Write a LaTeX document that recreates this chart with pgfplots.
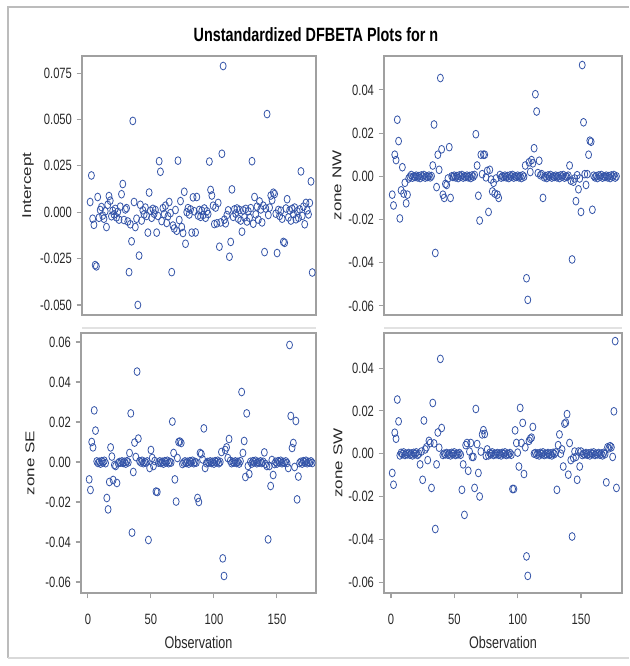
\documentclass[border=0pt]{standalone}
\usepackage{fontspec}
\setmainfont{Liberation Sans}
\newfontfamily\hfont[FakeStretch=0.75]{Liberation Sans}
\newfontfamily\vfont[FakeStretch=1.33]{Liberation Sans}
\usepackage{pgfplots}
\usepackage{pgfplotstable}
\pgfplotsset{compat=1.18}
\definecolor{mblue}{RGB}{52,84,168}
\definecolor{framegray}{RGB}{160,160,160}
\definecolor{txt}{RGB}{40,40,40}

\pgfplotstableread{
obs int nw se sw
1 0.0055 -0.0085 -0.0087 -0.0090
2 0.0198 -0.0135 -0.0140 -0.0145
3 -0.0035 0.0100 0.0100 0.0098
4 -0.0068 0.0075 0.0073 0.0070
5 -0.0285 0.0262 0.0258 0.0253
6 -0.0292 0.0163 0.0157 0.0151
7 0.0082 -0.0195 0.0003 -0.0008
8 -0.0030 -0.0065 -0.0005 0.0004
9 0.0012 0.0042 0.0001 -0.0002
10 0.0028 -0.0080 -0.0008 0.0006
11 -0.0018 -0.0030 0.0004 -0.0006
12 -0.0035 -0.0125 -0.0002 0.0000
13 0.0005 -0.0085 0.0006 -0.0003
14 -0.0080 -0.0010 -0.0006 0.0003
15 0.0040 -0.0002 -0.0180 -0.0005
16 0.0087 0.0006 -0.0237 0.0001
17 0.0062 -0.0006 -0.0100 -0.0008
18 -0.0022 0.0000 0.0073 0.0004
19 0.0008 -0.0003 0.0027 -0.0002
20 -0.0012 0.0003 -0.0090 0.0006
21 0.0018 -0.0005 -0.0015 -0.0006
22 -0.0028 0.0001 -0.0020 0.0000
23 0.0002 -0.0008 -0.0105 -0.0050
24 -0.0040 0.0004 -0.0006 0.0010
25 0.0030 -0.0002 0.0000 -0.0122
26 0.0097 0.0006 -0.0003 0.0155
27 0.0152 -0.0006 0.0003 0.0020
28 -0.0042 0.0000 -0.0005 0.0030
29 0.0015 -0.0003 0.0001 -0.0030
30 0.0022 0.0003 -0.0008 0.0060
31 -0.0050 -0.0005 0.0004 0.0050
32 -0.0323 0.0001 -0.0002 -0.0160
33 -0.0065 0.0050 0.0045 0.0237
34 -0.0157 0.0240 0.0243 0.0048
35 0.0492 -0.0355 -0.0353 -0.0352
36 0.0055 -0.0050 -0.0050 -0.0050
37 -0.0080 0.0100 0.0097 0.0099
38 -0.0035 0.0030 0.0025 0.0028
39 -0.0500 0.0455 0.0452 0.0443
40 -0.0234 0.0125 0.0117 0.0120
41 0.0040 -0.0085 0.0004 -0.0006
42 -0.0045 -0.0100 -0.0002 0.0000
43 0.0010 -0.0035 0.0006 -0.0003
44 -0.0012 -0.0040 -0.0006 0.0003
45 0.0025 -0.0010 0.0000 -0.0005
46 -0.0020 0.0135 -0.0003 0.0001
47 -0.0110 -0.0100 0.0003 -0.0008
48 0.0106 0.0000 -0.0390 0.0004
49 0.0008 -0.0003 -0.0030 -0.0002
50 -0.0030 0.0003 0.0060 0.0006
51 0.0018 -0.0005 0.0020 -0.0006
52 -0.0008 0.0001 -0.0020 0.0000
53 0.0012 -0.0008 0.0005 -0.0003
54 -0.0110 0.0004 -0.0148 0.0003
55 -0.0020 -0.0002 -0.0150 -0.0005
56 0.0275 0.0006 -0.0003 -0.0169
57 0.0218 -0.0006 0.0003 -0.0050
58 -0.0048 0.0000 -0.0005 -0.0286
59 0.0022 -0.0003 0.0001 0.0040
60 -0.0010 0.0003 -0.0008 0.0050
61 0.0035 -0.0005 0.0004 -0.0080
62 -0.0058 0.0001 -0.0002 0.0010
63 -0.0022 -0.0008 0.0006 0.0050
64 0.0055 0.0004 -0.0006 -0.0015
65 -0.0005 -0.0002 0.0000 -0.0015
66 -0.0323 0.0006 -0.0003 -0.0160
67 -0.0072 0.0195 0.0202 0.0209
68 -0.0088 0.0050 0.0045 0.0045
69 0.0012 -0.0090 -0.0087 -0.0090
70 -0.0100 -0.0205 -0.0198 -0.0200
71 0.0278 0.0100 0.0020 0.0010
72 -0.0042 0.0010 0.0100 0.0090
73 0.0060 0.0100 0.0102 0.0110
74 -0.0080 0.0100 0.0095 0.0092
75 -0.0112 -0.0005 -0.0010 -0.0010
76 0.0110 0.0025 -0.0003 0.0020
77 -0.0170 -0.0165 0.0003 -0.0008
78 0.0000 0.0030 -0.0005 0.0004
79 0.0022 -0.0015 0.0001 -0.0002
80 -0.0012 -0.0070 -0.0008 0.0006
81 0.0015 -0.0030 0.0004 -0.0006
82 -0.0110 -0.0080 -0.0002 0.0000
83 0.0080 -0.0010 0.0006 -0.0003
84 0.0005 -0.0085 -0.0006 0.0003
85 -0.0109 -0.0100 0.0000 -0.0005
86 0.0082 0.0006 -0.0003 0.0001
87 -0.0018 -0.0006 -0.0180 -0.0008
88 0.0012 0.0000 -0.0200 0.0004
89 -0.0025 -0.0003 0.0045 -0.0002
90 0.0008 0.0003 0.0040 0.0006
91 -0.0015 -0.0005 0.0013 -0.0006
92 0.0020 0.0001 0.0168 0.0000
93 -0.0030 -0.0008 -0.0030 -0.0003
94 0.0005 0.0004 -0.0006 0.0003
95 -0.0010 -0.0002 0.0000 -0.0005
96 0.0273 0.0006 -0.0003 -0.0165
97 0.0120 -0.0006 0.0003 -0.0165
98 0.0090 0.0000 -0.0005 0.0109
99 0.0035 -0.0003 0.0001 0.0050
100 -0.0064 0.0003 -0.0008 0.0005
101 0.0025 -0.0005 0.0004 -0.0060
102 -0.0060 0.0001 -0.0002 0.0214
103 0.0050 -0.0008 0.0006 0.0050
104 -0.0186 0.0004 -0.0006 0.0144
105 -0.0055 -0.0002 0.0000 -0.0095
106 0.0315 0.0050 0.0050 0.0030
107 0.0788 -0.0472 -0.0482 -0.0480
108 -0.0040 -0.0572 -0.0570 -0.0571
109 -0.0060 0.0065 0.0060 0.0060
110 -0.0015 0.0020 0.0073 0.0070
111 0.0010 0.0075 0.0020 0.0075
112 -0.0240 0.0060 0.0115 0.0125
113 -0.0160 0.0130 0.0006 0.0000
114 0.0123 0.0380 -0.0006 0.0003
115 -0.0025 0.0300 0.0000 -0.0005
116 0.0015 0.0015 -0.0003 0.0001
117 -0.0008 0.0072 0.0003 -0.0008
118 0.0020 0.0005 -0.0005 0.0004
119 -0.0035 0.0010 0.0001 -0.0002
120 0.0012 -0.0100 -0.0008 0.0006
121 -0.0045 -0.0005 0.0004 -0.0006
122 -0.0105 0.0001 0.0350 0.0000
123 0.0010 -0.0008 0.0045 -0.0003
124 -0.0028 0.0004 0.0105 0.0003
125 0.0018 -0.0002 -0.0075 -0.0005
126 -0.0050 0.0006 0.0243 0.0001
127 0.0005 -0.0006 -0.0020 -0.0008
128 -0.0030 0.0000 -0.0060 0.0004
129 0.0022 -0.0003 0.0001 -0.0002
130 0.0275 0.0003 -0.0008 0.0006
131 -0.0062 -0.0005 0.0004 -0.0169
132 0.0082 0.0001 -0.0002 0.0040
133 -0.0012 -0.0008 0.0006 0.0090
134 0.0030 0.0004 -0.0006 0.0000
135 -0.0040 -0.0002 0.0000 0.0020
136 0.0058 0.0006 -0.0003 -0.0060
137 0.0015 -0.0006 0.0003 0.0140
138 -0.0055 0.0000 -0.0005 0.0145
139 0.0035 -0.0003 0.0001 0.0185
140 -0.0215 0.0003 0.0048 -0.0098
141 0.0020 0.0050 -0.0010 0.0050
142 0.0529 -0.0020 -0.0020 -0.0030
143 -0.0015 -0.0385 -0.0387 -0.0387
144 0.0025 -0.0025 -0.0020 -0.0020
145 0.0090 -0.0010 -0.0120 0.0010
146 0.0065 -0.0115 0.0010 -0.0015
147 0.0105 0.0005 -0.0065 -0.0122
148 0.0098 -0.0060 -0.0010 0.0010
149 -0.0008 -0.0010 0.0001 -0.0060
150 -0.0220 -0.0165 -0.0008 0.0010
151 0.0012 0.0515 0.0004 -0.0006
152 -0.0020 0.0250 -0.0002 0.0000
153 0.0008 0.0010 0.0006 -0.0003
154 -0.0035 -0.0040 -0.0006 0.0003
155 -0.0160 0.0010 0.0000 -0.0005
156 -0.0165 0.0100 -0.0003 0.0001
157 0.0020 0.0165 0.0003 -0.0008
158 0.0070 0.0160 -0.0005 0.0004
159 -0.0028 -0.0155 -0.0030 -0.0002
160 0.0010 0.0003 0.0585 0.0006
161 -0.0045 -0.0005 0.0230 -0.0006
162 0.0018 0.0001 0.0070 0.0000
163 -0.0010 -0.0008 0.0095 -0.0003
164 0.0025 0.0004 -0.0025 0.0003
165 -0.0038 -0.0002 0.0205 -0.0005
166 0.0005 0.0006 -0.0187 0.0001
167 -0.0030 -0.0006 -0.0073 -0.0008
168 0.0015 0.0000 -0.0005 0.0004
169 0.0220 -0.0003 0.0001 -0.0002
170 -0.0020 0.0003 -0.0008 -0.0134
171 0.0030 -0.0005 0.0004 0.0030
172 -0.0065 0.0001 -0.0002 0.0025
173 0.0050 -0.0008 0.0006 0.0035
174 0.0010 0.0004 -0.0006 0.0030
175 -0.0012 -0.0002 0.0000 -0.0015
176 0.0050 0.0006 -0.0003 0.0198
177 0.0166 -0.0006 0.0003 0.0526
178 -0.0325 0.0000 -0.0005 -0.0160
}\data

\pgfplotsset{
  panel/.style={
    scale only axis,
    scaled y ticks=false,
    scaled x ticks=false,
    axis line style={draw=framegray, line width=1.2pt},
    tick style={draw=framegray, line width=0.8pt},
    major tick length=4pt,
    tick align=outside,
    tick pos=left,
    yticklabel style={font=\hfont\fontsize{11.2}{12}\selectfont, text=txt},
    xticklabel style={font=\hfont\fontsize{11.2}{12}\selectfont, text=txt, yshift=-8pt},
    ylabel style={font=\vfont\fontsize{9.6}{11}\selectfont, text=txt, rotate=0, anchor=center},
    xlabel style={font=\hfont\fontsize{12.6}{14}\selectfont, text=txt, at={(axis description cs:0.5,-0.1885)}, anchor=center},
  },
  dots/.style={only marks, mark=o, mark size=2.25pt, color=mblue,
    mark options={line width=0.6pt, yscale=1.3}},
}

\begin{document}
\begin{tikzpicture}
\useasboundingbox (0,0) rectangle (471.75pt,499.5pt);
% outer frame
\draw[framegray!70, line width=0.8pt] (6pt,6pt) -- (6pt,494.25pt) -- (471.75pt,494.25pt);
\draw[framegray!40, line width=0.8pt] (6pt,6pt) -- (471.75pt,6pt);
\draw[framegray!30, line width=0.8pt] (61.5pt,253.5pt) -- (237pt,253.5pt);
\draw[framegray!30, line width=0.8pt] (288pt,253.5pt) -- (466.5pt,253.5pt);
\node[font=\hfont\bfseries\fontsize{14.4}{16}\selectfont, text=black] at (237pt,473.25pt) {Unstandardized DFBETA Plots for n};

% top left
\begin{axis}[panel, at={(61.5pt,457.5pt)}, anchor=north west,
  width=175.5pt, height=194.25pt,
  xmin=-5.5, xmax=181, ymin=-0.0554, ymax=0.0842,
  xtick=\empty,
  ytick={-0.05,-0.025,0,0.025,0.05,0.075},
  yticklabels={-0.050,-0.025,0.000,0.025,0.050,0.075},
  ylabel={Intercept}, ylabel style={at={(axis description cs:-0.2308,0.5)}}]
\addplot[dots] table[x=obs,y=int]{\data};
\end{axis}

% top right
\begin{axis}[panel, at={(288pt,457.5pt)}, anchor=north west,
  width=178.5pt, height=194.25pt,
  xmin=-5.5, xmax=182.4, ymin=-0.0642, ymax=0.0557,
  xtick=\empty,
  ytick={-0.06,-0.04,-0.02,0,0.02,0.04},
  yticklabels={-0.06,-0.04,-0.02,0.00,0.02,0.04},
  ylabel={zone NW}, ylabel style={at={(axis description cs:-0.1975,0.5)}}]
\addplot[dots] table[x=obs,y=nw]{\data};
\end{axis}

% bottom left
\begin{axis}[panel, at={(60.75pt,249.75pt)}, anchor=north west,
  width=176.25pt, height=195pt,
  xmin=-5.5, xmax=181, ymin=-0.0655, ymax=0.0645,
  xtick={0,50,100,150}, xticklabels={0,50,100,150},
  ytick={-0.06,-0.04,-0.02,0,0.02,0.04,0.06},
  yticklabels={-0.06,-0.04,-0.02,0.00,0.02,0.04,0.06},
  xlabel={Observation},
  ylabel={zone SE}, ylabel style={at={(axis description cs:-0.2170,0.5)}}]
\addplot[dots] table[x=obs,y=se]{\data};
\end{axis}

% bottom right
\begin{axis}[panel, at={(288pt,249.75pt)}, anchor=north west,
  width=178.5pt, height=195pt,
  xmin=-5.5, xmax=182.4, ymin=-0.0651, ymax=0.0564,
  xtick={0,50,100,150}, xticklabels={0,50,100,150},
  ytick={-0.06,-0.04,-0.02,0,0.02,0.04},
  yticklabels={-0.06,-0.04,-0.02,0.00,0.02,0.04},
  xlabel={Observation},
  ylabel={zone SW}, ylabel style={at={(axis description cs:-0.1933,0.5)}}]
\addplot[dots] table[x=obs,y=sw]{\data};
\end{axis}
\end{tikzpicture}
\end{document}
